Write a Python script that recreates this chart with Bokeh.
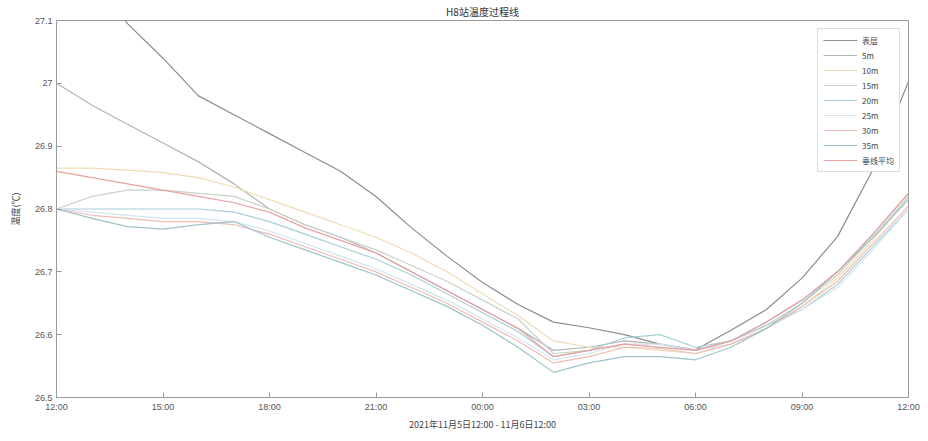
from bokeh.plotting import figure
from bokeh.models import FixedTicker, Legend, LegendItem, Range1d
from bokeh.embed import file_html
from bokeh.resources import INLINE

hours = list(range(25))
tick_hours = [0, 3, 6, 9, 12, 15, 18, 21, 24]
tick_labels = ["12:00", "15:00", "18:00", "21:00", "00:00", "03:00", "06:00", "09:00", "12:00"]

names = ["表层", "5m", "10m", "15m", "20m", "25m", "30m", "35m", "垂线平均"]

surface = [27.22, 27.17, 27.095, 27.04, 26.98, 26.95, 26.92, 26.89, 26.86, 26.82, 26.77, 26.725,
           26.683, 26.648, 26.62, 26.611, 26.60, 26.585, 26.576, 26.607, 26.64, 26.69, 26.756, 26.863, 27.003]
m5 = [27.00, 26.965, 26.935, 26.905, 26.875, 26.84, 26.80, 26.775, 26.755, 26.73, 26.70, 26.67,
      26.64, 26.61, 26.575, 26.58, 26.59, 26.585, 26.575, 26.59, 26.62, 26.655, 26.70, 26.76, 26.825]
m10 = [26.865, 26.865, 26.862, 26.858, 26.85, 26.835, 26.815, 26.795, 26.775, 26.755, 26.73, 26.70,
       26.665, 26.63, 26.59, 26.58, 26.58, 26.575, 26.57, 26.585, 26.61, 26.645, 26.69, 26.75, 26.82]
m15 = [26.80, 26.82, 26.83, 26.83, 26.825, 26.82, 26.80, 26.775, 26.755, 26.735, 26.71, 26.685,
       26.655, 26.625, 26.57, 26.575, 26.585, 26.58, 26.575, 26.59, 26.615, 26.65, 26.695, 26.755, 26.82]
m20 = [26.80, 26.80, 26.80, 26.80, 26.80, 26.795, 26.78, 26.76, 26.74, 26.72, 26.695, 26.665,
       26.635, 26.605, 26.565, 26.575, 26.595, 26.60, 26.58, 26.59, 26.615, 26.64, 26.68, 26.74, 26.80]
m25 = [26.80, 26.795, 26.79, 26.785, 26.785, 26.78, 26.765, 26.745, 26.725, 26.705, 26.68, 26.655,
       26.625, 26.595, 26.56, 26.57, 26.585, 26.585, 26.575, 26.585, 26.61, 26.64, 26.675, 26.735, 26.80]
m30 = [26.80, 26.79, 26.785, 26.78, 26.78, 26.775, 26.76, 26.74, 26.72, 26.70, 26.675, 26.65,
       26.62, 26.59, 26.555, 26.565, 26.58, 26.578, 26.57, 26.585, 26.61, 26.645, 26.685, 26.745, 26.805]
m35 = [26.80, 26.785, 26.772, 26.768, 26.775, 26.78, 26.755, 26.735, 26.715, 26.695, 26.67, 26.645,
       26.615, 26.58, 26.54, 26.555, 26.565, 26.565, 26.56, 26.58, 26.61, 26.65, 26.70, 26.755, 26.815]
mean = [26.86, 26.85, 26.84, 26.83, 26.82, 26.81, 26.795, 26.77, 26.75, 26.73, 26.70, 26.67,
        26.64, 26.61, 26.565, 26.575, 26.585, 26.58, 26.575, 26.59, 26.62, 26.655, 26.70, 26.76, 26.825]

series = [surface, m5, m10, m15, m20, m25, m30, m35, mean]
colors = ["#8c8c8c", "#b4b4b4", "#f0dcb4", "#c8d4c8", "#a8d0d8", "#d4e4f0", "#f0bcb4", "#9cc4c8", "#e8a0a0"]

p = figure(width=920, height=433, output_backend="svg", toolbar_location=None,
           x_range=Range1d(0, 24), y_range=Range1d(26.5, 27.1),
           min_border_left=56, min_border_right=12, min_border_bottom=30, min_border_top=7,
           title="H8站温度过程线")
p.title.align = "center"
p.title.text_font = "Noto Sans CJK SC"
p.title.text_font_size = "10px"
p.title.text_font_style = "normal"
p.title.text_color = "#333333"
p.title.standoff = 3
p.title.offset = 0

p.xgrid.visible = False
p.ygrid.visible = False
p.outline_line_color = "#9a9a9a"
p.background_fill_color = "white"

items = []
for name, vals, c in zip(names, series, colors):
    r = p.line(hours, vals, line_color=c, line_width=1.2)
    items.append(LegendItem(label=name, renderers=[r]))

legend = Legend(items=items, location="top_right")
legend.label_text_font = "Noto Sans CJK SC"
legend.label_text_font_size = "8px"
legend.label_text_color = "#444444"
legend.glyph_width = 34
legend.glyph_height = 12
legend.label_height = 12
legend.spacing = 3
legend.padding = 5
legend.margin = 8
legend.border_line_color = "#bbbbbb"
legend.background_fill_alpha = 1.0
p.add_layout(legend)

p.xaxis.ticker = FixedTicker(ticks=tick_hours)
p.xaxis.major_label_overrides = {h: l for h, l in zip(tick_hours, tick_labels)}
p.xaxis.axis_label = "2021年11月5日12:00 - 11月6日12:00"
p.yaxis.ticker = FixedTicker(ticks=[26.5, 26.6, 26.7, 26.8, 26.9, 27.0, 27.1])
p.yaxis.major_label_overrides = {27.0: "27"}
p.yaxis.axis_label = "温度(℃)"

for ax in (p.xaxis, p.yaxis):
    ax.axis_line_color = "#9a9a9a"
    ax.major_tick_line_color = "#9a9a9a"
    ax.major_tick_in = 5
    ax.major_tick_out = 0
    ax.minor_tick_line_color = None
    ax.major_label_text_font = "Liberation Sans"
    ax.major_label_text_font_size = "9px"
    ax.major_label_text_color = "#555555"
    ax.axis_label_text_font = "Noto Sans CJK SC"
    ax.axis_label_text_font_size = "9px"
    ax.axis_label_text_font_style = "normal"
    ax.axis_label_text_color = "#444444"
p.xaxis.major_label_standoff = 4
p.xaxis.axis_label_standoff = 3
p.yaxis.major_label_standoff = 4
p.yaxis.axis_label_standoff = 10

open("out.html", "w").write(file_html(p, INLINE))
